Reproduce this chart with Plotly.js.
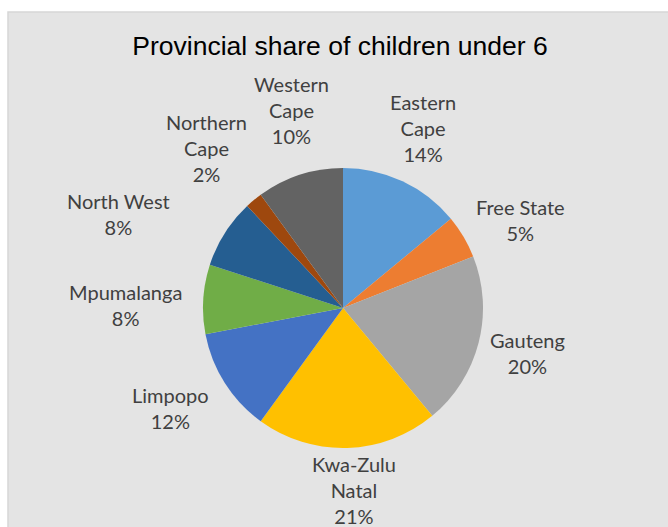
<!DOCTYPE html>
<html>
<head>
<meta charset="utf-8">
<script src="https://cdn.plot.ly/plotly-3.0.1.min.js"></script>
<style>html,body{margin:0;padding:0;background:#fff;}#chart{width:668px;height:527px;}</style>
</head>
<body>
<div id="chart"></div>
<script>
// ---- data ----
const provinces = ['Eastern Cape','Free State','Gauteng','Kwa-Zulu Natal','Limpopo','Mpumalanga','North West','Northern Cape','Western Cape'];
const displayNames = ['Eastern<br>Cape','Free State','Gauteng','Kwa-Zulu<br>Natal','Limpopo','Mpumalanga','North West','Northern<br>Cape','Western<br>Cape'];
const shares = [14, 5, 20, 21, 12, 8, 8, 2, 10];

// ---- styling / layout ----
const colors = ['#5B9BD5','#ED7D31','#A5A5A5','#FFC000','#4472C4','#70AD47','#255E91','#9E480E','#636363'];
const W = 668, H = 527;
const cx = 343, cy = 308, r = 140;
// label block centres (pixels from top-left), laid out like the original's best-fit labels
const labelPos = [[423,128],[520,220],[527,353],[354,490],[170,408],[126,305],[119,214],[206,148],[291,110]];

const annotations = provinces.map((p, i) => ({
  xref: 'paper', yref: 'paper',
  x: labelPos[i][0] / W, y: 1 - labelPos[i][1] / H,
  xanchor: 'center', yanchor: 'middle', align: 'center',
  showarrow: false,
  text: displayNames[i] + '<br>' + shares[i] + '%',
  font: {family: 'Lato, "Open Sans", sans-serif', size: 20, color: '#404040'}
}));

Plotly.newPlot('chart', [{
  type: 'pie',
  labels: provinces,
  values: shares,
  textinfo: 'none',
  marker: {colors: colors, line: {width: 0}},
  sort: false,
  direction: 'clockwise',
  rotation: 0,
  showlegend: false,
  hoverinfo: 'label+percent',
  domain: {x: [(cx - r) / W, (cx + r) / W], y: [(H - cy - r) / H, (H - cy + r) / H]}
}], {
  width: W, height: H,
  margin: {l: 0, r: 0, t: 0, b: 0},
  paper_bgcolor: '#ffffff',
  title: {text: 'Provincial share of children under 6', x: 340 / W, xanchor: 'center', y: 1 - 46 / H, yanchor: 'middle',
          font: {family: '"Liberation Sans", Arial, sans-serif', size: 26.5, color: '#000000'}},
  annotations: annotations,
  shapes: [{type: 'rect', xref: 'paper', yref: 'paper', x0: 8 / W, x1: 1.01, y0: -0.01, y1: 1 - 12 / H,
            fillcolor: '#E4E4E4', line: {color: '#D6D6D6', width: 1.5}, layer: 'below'}]
}, {displayModeBar: false, staticPlot: true});
</script>
</body>
</html>
